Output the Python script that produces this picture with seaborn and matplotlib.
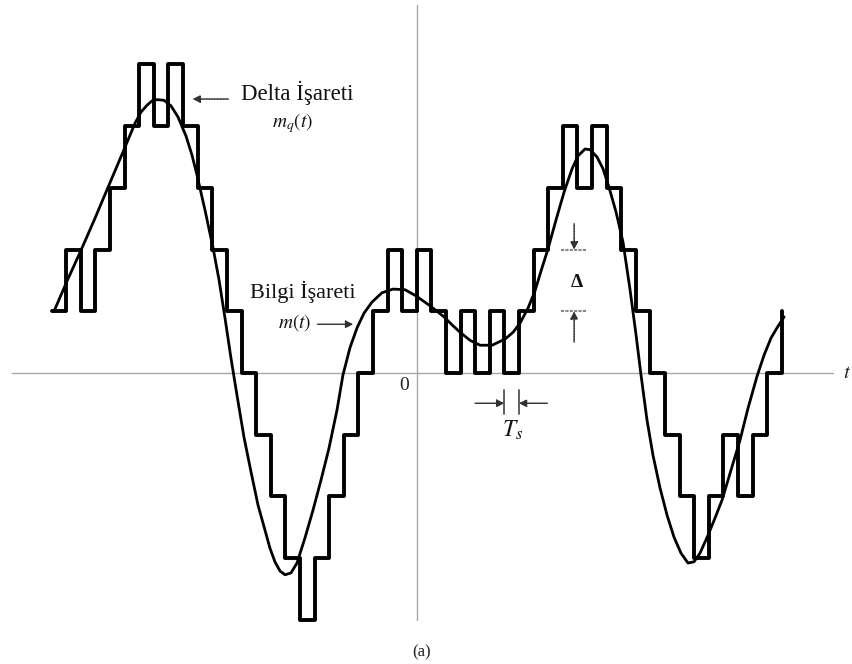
import matplotlib
matplotlib.use("Agg")
import matplotlib.pyplot as plt
import seaborn as sns
import pandas as pd

# ---- data (time in units of Ts, amplitude in units of Delta) ----
step_times = list(range(-25, 26))
step_levels = [1, 2, 1, 2, 3, 4, 5, 4, 5, 4, 3, 2, 1, 0, -1, -2, -3, -4, -3, -2,
               -1, 0, 1, 2, 1, 2, 1, 0, 1, 0, 1, 0, 1, 2, 3, 4, 3, 4, 3, 2,
               1, 0, -1, -2, -3, -2, -1, -2, -1, 0, 1]

msg_t = [-24.84, -23.95, -22.99, -22.03, -21.14, -20.12, -19.29, -18.88, -18.47, -18.13,
         -17.79, -17.31, -16.83, -16.35, -15.80, -15.39, -15.05, -14.50, -13.95, -13.54,
         -13.13, -12.72, -12.31, -11.83, -11.35, -10.87, -10.40, -10.05, -9.71, -9.36,
         -9.02, -8.61, -8.20, -7.65, -7.10, -6.55, -6.01, -5.46, -5.05, -4.57,
         -4.09, -3.61, -3.06, -2.38, -1.62, -0.80, -0.05, 0.91, 1.87, 2.42,
         2.97, 3.65, 4.34, 5.16, 6.05, 6.60, 7.08, 7.62, 8.10, 8.51,
         8.99, 9.54, 10.09, 10.64, 11.05, 11.53, 11.87, 12.35, 12.76, 13.17,
         13.65, 14.13, 14.61, 15.02, 15.36, 15.77, 16.18, 16.66, 17.14, 17.62,
         18.10, 18.58, 18.99, 19.40, 19.95, 20.43, 20.91, 21.53, 22.14, 22.69,
         23.31, 23.79, 24.27, 24.75, 25.16]
msg_a = [1.00, 1.49, 1.99, 2.51, 3.01, 3.58, 4.05, 4.23, 4.34, 4.41,
         4.43, 4.42, 4.33, 4.15, 3.84, 3.53, 3.21, 2.64, 2.03, 1.51,
         0.89, 0.24, -0.36, -1.04, -1.60, -2.14, -2.54, -2.84, -3.06, -3.21,
         -3.27, -3.24, -3.08, -2.67, -2.22, -1.73, -1.22, -0.60, -0.03, 0.41,
         0.73, 0.97, 1.15, 1.30, 1.36, 1.35, 1.25, 1.09, 0.91, 0.78,
         0.66, 0.53, 0.45, 0.45, 0.55, 0.66, 0.81, 1.05, 1.33, 1.65,
         2.01, 2.48, 2.93, 3.31, 3.52, 3.63, 3.62, 3.50, 3.31, 3.01,
         2.61, 2.12, 1.35, 0.62, -0.03, -0.76, -1.33, -1.86, -2.30, -2.66,
         -2.92, -3.08, -3.06, -2.92, -2.63, -2.35, -2.06, -1.57, -1.09, -0.57,
         -0.05, 0.29, 0.57, 0.76, 0.91]

label_delta = "Delta İşareti"
label_mq = r"$m_q(t)$"
label_info = "Bilgi İşareti"
label_m = r"$m(t)$"
label_ts = r"$T_s$"
caption = "(a)"

stairs = pd.DataFrame({"t": step_times, "level": step_levels})
msg = pd.DataFrame({"t": msg_t, "a": msg_a})

sns.set_theme(style="white")
plt.rcParams["font.family"] = ["Liberation Serif", "DejaVu Serif"]
plt.rcParams["mathtext.fontset"] = "stix"

fig = plt.figure(figsize=(8.53, 6.64), dpi=100)
ax = fig.add_axes([0, 0, 1, 1])
ax.set_xlim(-28.54, 29.88)
ax.set_ylim(-4.716, 6.045)
ax.axis("off")

grey = "#a8a8a8"
# axes lines
ax.plot([-27.7, 28.5], [0, 0], color=grey, lw=1.0, zorder=1)
ax.plot([0, 0], [-4.0, 5.96], color=grey, lw=1.0, zorder=1)

sns.lineplot(data=stairs, x="t", y="level", drawstyle="steps-post", color="black",
             lw=2.8, estimator=None, sort=False, ax=ax, zorder=3)
sns.lineplot(data=msg, x="t", y="a", color="black", lw=2.0, estimator=None,
             sort=False, ax=ax, zorder=4)
ax.set_xlabel("")
ax.set_ylabel("")

arrow = dict(arrowstyle="-|>", color="#333333", lw=1.0, mutation_scale=11,
             shrinkA=0, shrinkB=0, linestyle=(0, (1.5, 0.5)))

# Delta label
ax.text(-8.2, 4.54, label_delta, fontsize=16.5, ha="center", va="center", color="#111111")
ax.text(-8.47, 4.05, label_mq, fontsize=14, ha="center", va="center", color="#111111",
        fontweight="bold")
ax.annotate("", xy=(-15.35, 4.44), xytext=(-12.9, 4.44), arrowprops=arrow)

# Bilgi label
ax.text(-7.77, 1.31, label_info, fontsize=16, ha="center", va="center", color="#111111")
ax.text(-8.35, 0.82, label_m, fontsize=14, ha="center", va="center", color="#111111")
ax.annotate("", xy=(-4.35, 0.79), xytext=(-6.8, 0.79), arrowprops=arrow)

# origin
ax.text(-0.87, -0.2, "0", fontsize=14, ha="center", va="center", color="#222222")
# t label
ax.text(29.5, 0.0, r"$t$", fontsize=15, ha="center", va="center", color="#222222")

# Ts annotation
for tt in (6, 7):
    ax.plot([tt, tt], [-0.28, -0.66], color="#555555", lw=1.3, zorder=2)
ax.annotate("", xy=(6.0, -0.49), xytext=(4.0, -0.49), arrowprops=arrow)
ax.annotate("", xy=(7.0, -0.49), xytext=(8.95, -0.49), arrowprops=arrow)
ax.text(6.55, -0.93, label_ts, fontsize=17, ha="center", va="center", color="#111111")

# Delta annotation
for lv in (2, 1):
    ax.plot([9.9, 11.6], [lv, lv], color="#888888", lw=1.5, linestyle=(0, (1.5, 0.6)), zorder=2)
ax.annotate("", xy=(10.78, 2.0), xytext=(10.78, 2.42), arrowprops=arrow)
ax.annotate("", xy=(10.78, 1.0), xytext=(10.78, 0.5), arrowprops=arrow)
ax.text(11.0, 1.46, "Δ", fontsize=14, ha="center", va="center", color="#111111",
        fontweight="bold")

# caption
ax.text(0.36, -4.52, caption, fontsize=12, ha="center", va="center", color="#222222")

fig.savefig("out.png", dpi=100)
